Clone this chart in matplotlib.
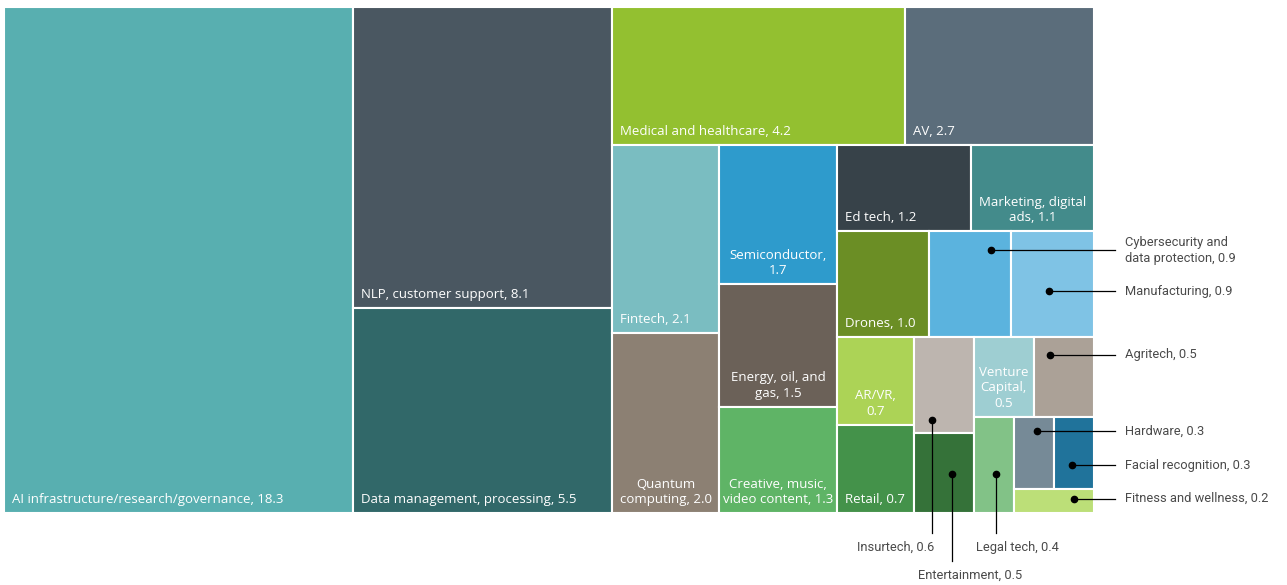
import matplotlib.pyplot as plt
from matplotlib.patches import Rectangle

# values (billion), in the order the treemap is filled
names = ["AI infrastructure/research/governance", "NLP, customer support",
         "Data management, processing", "Medical and healthcare", "AV",
         "Fintech", "Quantum computing", "Semiconductor", "Energy, oil, and gas",
         "Creative, music, video content", "Ed tech", "Marketing, digital ads",
         "Drones", "Cybersecurity and data protection", "Manufacturing", "AR/VR",
         "Retail", "Insurtech", "Entertainment", "Venture Capital", "Agritech",
         "Legal tech", "Hardware", "Facial recognition", "Fitness and wellness"]
values = [18.3, 8.1, 5.5, 4.2, 2.7, 2.1, 2.0, 1.7, 1.5, 1.3, 1.2, 1.1, 1.0,
          0.9, 0.9, 0.7, 0.7, 0.6, 0.5, 0.5, 0.5, 0.4, 0.3, 0.3, 0.2]

colors = ["#58afb0", "#4a5761", "#316869", "#93c030", "#5b6d7b", "#7abdc1",
          "#8c8073", "#2e9bcc", "#6b6158", "#5fb466", "#374249", "#438b8b",
          "#6b8e25", "#5bb3de", "#7fc3e5", "#acd356", "#44924a", "#bdb5af",
          "#357239", "#9eced2", "#aba197", "#82c287", "#768a97", "#20739b",
          "#bcdf78"]

# how many items go in each strip of the squarified layout
row_sizes = [1, 2, 2, 2, 3, 2, 3, 2, 2, 2, 1, 2, 1]

# label text drawn inside the cell (with manual wrapping)
inside = {0: "AI infrastructure/research/governance, 18.3",
          1: "NLP, customer support, 8.1",
          2: "Data management, processing, 5.5",
          3: "Medical and healthcare, 4.2",
          4: "AV, 2.7",
          5: "Fintech, 2.1",
          6: "Quantum\ncomputing, 2.0",
          7: "Semiconductor,\n1.7",
          8: "Energy, oil, and\ngas, 1.5",
          9: "Creative, music,\nvideo content, 1.3",
          10: "Ed tech, 1.2",
          11: "Marketing, digital\nads, 1.1",
          12: "Drones, 1.0",
          15: "AR/VR,\n0.7",
          16: "Retail, 0.7",
          19: "Venture\nCapital,\n0.5"}

# callouts: index -> (dot position in cell as fraction, side)
callouts = {13: (0.75, 0.18, "right"), 14: (0.46, 0.57, "right"),
            20: (0.27, 0.23, "right"), 22: (0.58, 0.20, "right"),
            23: (0.46, 0.67, "right"), 24: (0.75, 0.40, "right"),
            17: (0.31, 0.87, "below"), 18: (0.64, 0.51, "below"),
            21: (0.56, 0.59, "below")}
callout_text = {13: "Cybersecurity and\ndata protection, 0.9",
                14: "Manufacturing, 0.9", 20: "Agritech, 0.5",
                22: "Hardware, 0.3", 23: "Facial recognition, 0.3",
                24: "Fitness and wellness, 0.2", 17: "Insurtech, 0.6",
                18: "Entertainment, 0.5", 21: "Legal tech, 0.4"}


def layout(vals, x0, y0, x1, y1, rows):
    rects = []
    total = sum(vals)
    i = 0
    for n in rows:
        chunk = vals[i:i + n]
        s = sum(chunk)
        w, h = x1 - x0, y1 - y0
        if w >= h:
            # strip stacked down the left side
            cw = w * s / total
            yy = y0
            for v in chunk:
                hh = h * v / s
                rects.append((x0, yy, cw, hh))
                yy += hh
            x0 += cw
        else:
            # strip laid along the top
            rh = h * s / total
            xx = x0
            for v in chunk:
                ww = w * v / s
                rects.append((xx, y0, ww, rh))
                xx += ww
            y0 += rh
        total -= s
        i += n
    return rects


fig = plt.figure(figsize=(12.87, 5.85), dpi=100)
ax = fig.add_axes([0, 0, 1, 1])
ax.set_xlim(0, 1287)
ax.set_ylim(585, 0)
ax.axis("off")

rects = layout(values, 4, 7, 1094, 513, row_sizes)

for i, (x, y, w, h) in enumerate(rects):
    ax.add_patch(Rectangle((x, y), w, h, facecolor=colors[i],
                           edgecolor="white", linewidth=1.5))
    if i in inside:
        txt = inside[i]
        if "\n" in txt:
            ax.text(x + w / 2, y + h - 7, txt, ha="center", va="bottom",
                    color="white", fontsize=9.5, family="Open Sans",
                    linespacing=1.25)
        else:
            ax.text(x + 8, y + h - 7, txt, ha="left", va="bottom",
                    color="white", fontsize=9.5, family="Open Sans")

below_pos = {17: (533, 547, "right", 2), 18: (561, 575, "left", -34),
             21: (533, 547, "left", -20)}

for i, (fx, fy, side) in callouts.items():
    x, y, w, h = rects[i]
    dx, dy = x + fx * w, y + fy * h
    ax.plot(dx, dy, "o", color="black", ms=4.5, zorder=5)
    if side == "right":
        ax.plot([dx, 1115], [dy, dy], color="black", lw=0.9, zorder=4)
        ax.text(1125, dy, callout_text[i], ha="left", va="center",
                color="#4a4a4a", fontsize=9.3, family="Roboto",
                linespacing=1.35)
    else:
        yend, ytxt, ha, off = below_pos[i]
        ax.plot([dx, dx], [dy, yend], color="black", lw=0.9, zorder=4)
        ax.text(dx + off, ytxt, callout_text[i], ha=ha, va="center",
                color="#4a4a4a", fontsize=9.3, family="Roboto")

fig.savefig("out.png", dpi=100)
